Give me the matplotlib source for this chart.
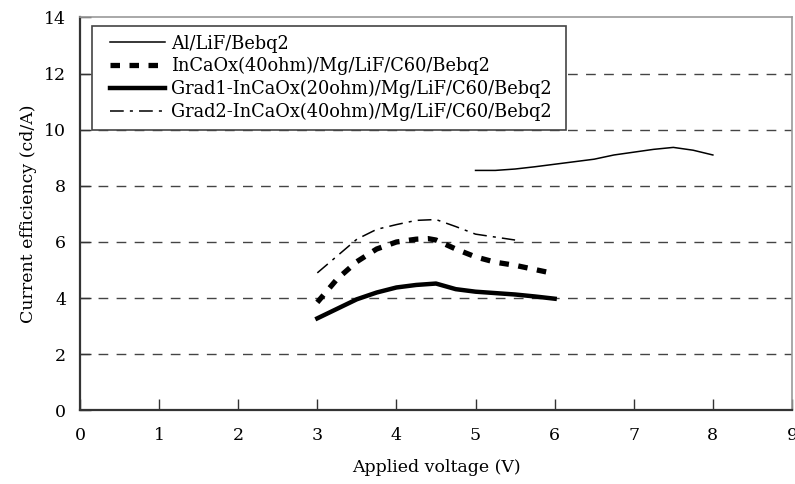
import matplotlib
matplotlib.use("Agg")
import matplotlib.pyplot as plt
from matplotlib.patches import Rectangle

plt.rcParams['font.family'] = ['DejaVu Serif']

# Current efficiency vs. applied voltage for four device structures
v_al = [5.0, 5.25, 5.5, 5.75, 6.0, 6.25, 6.5, 6.75, 7.0, 7.25, 7.5, 7.75, 8.0]
ce_al = [8.55, 8.55, 8.6, 8.68, 8.77, 8.86, 8.95, 9.1, 9.2, 9.3, 9.37, 9.27, 9.1]

v_incaox = [3.0, 3.25, 3.5, 3.75, 4.0, 4.25, 4.4, 4.5, 4.75, 5.0, 5.25, 5.5, 5.9]
ce_incaox = [3.85, 4.68, 5.3, 5.75, 6.0, 6.1, 6.12, 6.07, 5.75, 5.47, 5.28, 5.17, 4.93]

v_grad1 = [3.0, 3.25, 3.5, 3.75, 4.0, 4.25, 4.5, 4.75, 5.0, 5.25, 5.5, 5.75, 6.0]
ce_grad1 = [3.28, 3.62, 3.96, 4.2, 4.38, 4.47, 4.52, 4.32, 4.23, 4.18, 4.13, 4.06, 3.98]

v_grad2 = [3.0, 3.25, 3.5, 3.75, 4.0, 4.25, 4.5, 4.75, 5.0, 5.5]
ce_grad2 = [4.9, 5.5, 6.1, 6.45, 6.62, 6.77, 6.8, 6.55, 6.28, 6.07]

labels = ["Al/LiF/Bebq2",
          "InCaOx(40ohm)/Mg/LiF/C60/Bebq2",
          "Grad1-InCaOx(20ohm)/Mg/LiF/C60/Bebq2",
          "Grad2-InCaOx(40ohm)/Mg/LiF/C60/Bebq2"]

x_ticks = list(range(0, 10))
y_ticks = list(range(0, 15, 2))

fig = plt.figure(figsize=(7.95, 4.84), dpi=100)
ax = fig.add_axes([0.1006, 0.152, 0.8956, 0.812])

# horizontal dashed grid
for y in y_ticks[1:-1]:
    ax.axhline(y, color='#444444', lw=1.0, dashes=(7, 6), zorder=1)

ax.plot(v_al, ce_al, color='black', lw=1.1, label=labels[0], zorder=3)
ax.plot(v_incaox, ce_incaox, color='black', lw=3.8, dashes=(1.8, 1.8),
        label=labels[1], zorder=3)
ax.plot(v_grad1, ce_grad1, color='black', lw=3.2, label=labels[2], zorder=3)
ax.plot(v_grad2, ce_grad2, color='black', lw=1.1, dashes=(9, 4, 2, 4),
        label=labels[3], zorder=3)

ax.set_xlim(0, 9)
ax.set_ylim(0, 14)
ax.set_xticks(x_ticks)
ax.set_yticks(y_ticks)
ax.tick_params(axis='both', direction='in', length=8, width=1, labelsize=12.5,
               color='#333333')
ax.tick_params(axis='x', pad=12)
ax.tick_params(axis='y', pad=10)

for side in ('left', 'bottom'):
    ax.spines[side].set_color('#333333')
    ax.spines[side].set_linewidth(1.6)
for side in ('top', 'right'):
    ax.spines[side].set_color('#999999')
    ax.spines[side].set_linewidth(1.2)

ax.set_xlabel("Applied voltage (V)", fontsize=12.5, labelpad=11)
ax.set_ylabel("Current efficiency (cd/A)", fontsize=12.5, labelpad=5)

leg = ax.legend(loc='upper left', bbox_to_anchor=(0.042, 0.956), fontsize=12.8,
                frameon=False, handlelength=3.1, handletextpad=0.35,
                borderpad=0.0, labelspacing=0.25, borderaxespad=0)
leg.set_zorder(5)

# rectangular frame around the legend with wider side margins
fig.canvas.draw()
bb = leg.get_window_extent()
pad_l, pad_r, pad_t, pad_b = 18, 14, 9, 9
fw, fh = fig.bbox.width, fig.bbox.height
frame = Rectangle(((bb.x0 - pad_l) / fw, (bb.y0 - pad_b) / fh),
                  (bb.width + pad_l + pad_r) / fw,
                  (bb.height + pad_t + pad_b) / fh,
                  transform=fig.transFigure, facecolor='white',
                  edgecolor='#444444', lw=1.2, zorder=4.5)
ax.add_artist(frame)

fig.savefig("out.png", dpi=100)
